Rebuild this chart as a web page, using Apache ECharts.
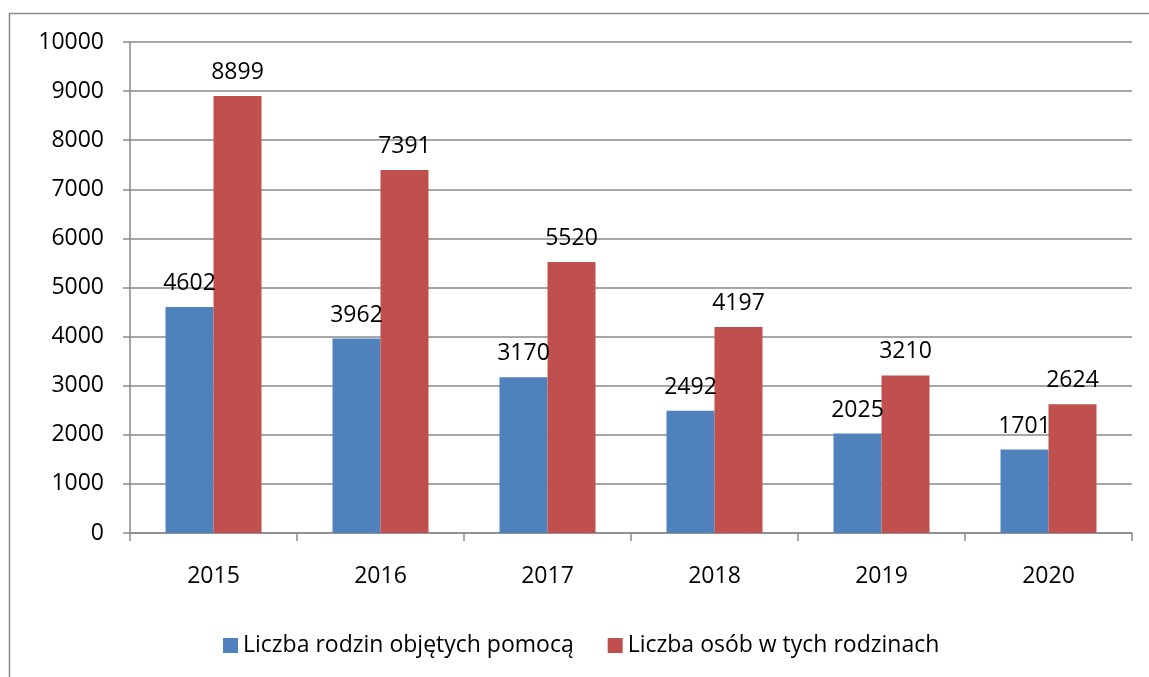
<!DOCTYPE html>
<html><head><meta charset="utf-8">
<script src="https://cdn.jsdelivr.net/npm/echarts@6/dist/echarts.min.js"></script>
<style>html,body{margin:0;padding:0;background:#fff}#c{width:1149px;height:677px}</style>
</head><body><div id="c"></div>
<script>
const categories = ['2015','2016','2017','2018','2019','2020'];
const rodziny = [4602, 3962, 3170, 2492, 2025, 1701];
const osoby = [8899, 7391, 5520, 4197, 3210, 2624];
const seriesNames = ['Liczba rodzin objętych pomocą', 'Liczba osób w tych rodzinach'];
const FONT = 'Open Sans';
const FS = 23;
const chart = echarts.init(document.getElementById('c'));
const lbl = {show:true, position:'top', distance:12, color:'#000', fontFamily:FONT, fontSize:FS};
chart.setOption({
  animation:false,
  textStyle:{fontFamily:FONT},
  graphic:[{type:'rect', shape:{x:9.5,y:13.5,width:1160,height:700}, style:{fill:null, stroke:'#8a8a8a', lineWidth:1.5}, silent:true}],
  grid:{left:130, right:17, top:42, bottom:144},
  legend:{left:218, top:629, itemWidth:15, itemHeight:15, icon:'rect', itemGap:34,
    textStyle:{fontFamily:FONT, fontSize:FS, color:'#000'}, data:seriesNames},
  xAxis:{type:'category', data:categories, boundaryGap:true,
    axisLine:{lineStyle:{color:'#8a8a8a', width:1.5}},
    axisTick:{show:true, length:8, alignWithLabel:false, lineStyle:{color:'#8a8a8a', width:1.5}},
    axisLabel:{color:'#000', fontFamily:FONT, fontSize:FS, margin:32}},
  yAxis:{type:'value', min:0, max:10000, interval:1000,
    axisLine:{show:true, lineStyle:{color:'#8a8a8a', width:1.5}},
    axisTick:{show:true, length:7, inside:false, lineStyle:{color:'#8a8a8a', width:1.5}},
    splitLine:{show:true, lineStyle:{color:'#8a8a8a', width:1.5}},
    axisLabel:{color:'#000', fontFamily:FONT, fontSize:FS, margin:26, formatter:v=>String(v)}},
  series:[
    {name:seriesNames[0], type:'bar', data:rodziny, barWidth:48, barGap:'0%', itemStyle:{color:'#4F81BD'}, label:lbl},
    {name:seriesNames[1], type:'bar', data:osoby, barWidth:48, barGap:'0%', itemStyle:{color:'#C0504D'}, label:lbl}
  ]
});
</script></body></html>
